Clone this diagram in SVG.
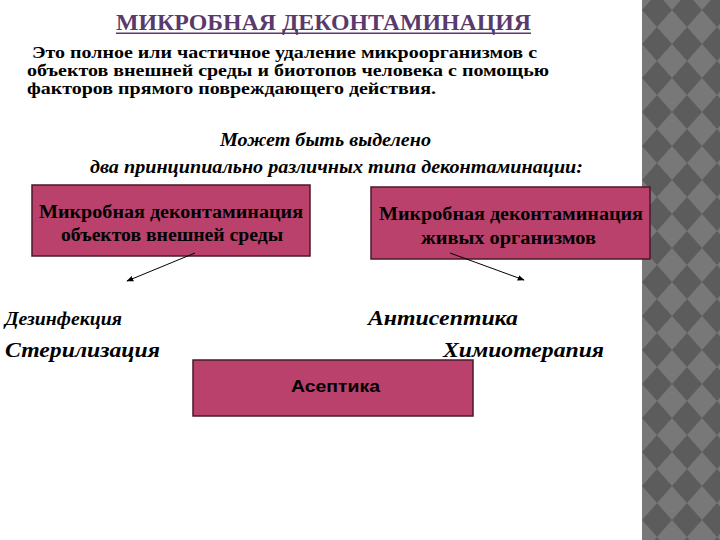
<svg xmlns="http://www.w3.org/2000/svg" width="720" height="540" viewBox="0 0 720 540">
<style>
.t{font-family:"Liberation Serif","Times New Roman",serif;font-weight:bold;fill:#000}
.i{font-style:italic}
.box{fill:#b9416c;stroke:#4a1828;stroke-width:1.5}
.conn{stroke:#000;stroke-width:1;fill:none;marker-end:url(#ah)}
</style>
<defs>
<pattern id="dia" x="642" y="-7" width="30" height="34" patternUnits="userSpaceOnUse">
<rect width="30" height="34" fill="#787878"/>
<polygon points="15,0 30,17 15,34 0,17" fill="#5c5c5c"/>
</pattern>
<marker id="ah" viewBox="0 0 10 10" refX="9" refY="5" markerWidth="7" markerHeight="7" orient="auto" markerUnits="userSpaceOnUse">
<path d="M0,1 L10,5 L0,9 z" fill="#000"/>
</marker>
</defs>
<rect width="720" height="540" fill="#fff"/>
<rect x="642" y="0" width="78" height="540" fill="url(#dia)"/>

<g id="title">
<text class="t" x="116" y="30" font-size="23" style="fill:#5a3a6d" textLength="415" lengthAdjust="spacingAndGlyphs">МИКРОБНАЯ ДЕКОНТАМИНАЦИЯ</text>
<rect x="116" y="32.5" width="415" height="1.5" fill="#5a3a6d"/>
</g>
<g id="definition">
<text class="t" x="32" y="58" font-size="16.5" textLength="505" lengthAdjust="spacingAndGlyphs">Это полное или частичное удаление микроорганизмов с</text>
<text class="t" x="27" y="76" font-size="16.5" textLength="522" lengthAdjust="spacingAndGlyphs">объектов внешней среды и биотопов человека с помощью</text>
<text class="t" x="27" y="94" font-size="16.5" textLength="409" lengthAdjust="spacingAndGlyphs">факторов прямого повреждающего действия.</text>
</g>
<g id="subtitle">
<text class="t i" x="220" y="146" font-size="18" textLength="211" lengthAdjust="spacingAndGlyphs">Может быть выделено</text>
<text class="t i" x="90" y="173" font-size="18" textLength="493" lengthAdjust="spacingAndGlyphs">два принципиально различных типа деконтаминации:</text>
</g>

<g id="node-external">
<rect class="box" x="32" y="185" width="278" height="71"/>
<text class="t" x="39" y="218" font-size="18" textLength="264" lengthAdjust="spacingAndGlyphs">Микробная деконтаминация</text>
<text class="t" x="61" y="241" font-size="18" textLength="222" lengthAdjust="spacingAndGlyphs">объектов внешней среды</text>
</g>
<g id="node-living">
<rect class="box" x="371" y="187" width="279" height="72"/>
<text class="t" x="379" y="220" font-size="18" textLength="264" lengthAdjust="spacingAndGlyphs">Микробная деконтаминация</text>
<text class="t" x="421" y="244" font-size="18" textLength="175" lengthAdjust="spacingAndGlyphs">живых организмов</text>
</g>
<g id="node-asepsis">
<rect class="box" x="193" y="360" width="280" height="56"/>
<text x="291" y="392" font-family="Liberation Sans, Arial, sans-serif" font-weight="bold" font-size="17" textLength="89" lengthAdjust="spacingAndGlyphs">Асептика</text>
</g>

<g id="connectors">
<line class="conn" x1="195" y1="253" x2="127" y2="281"/>
<line class="conn" x1="450" y1="253" x2="524" y2="280"/>
</g>

<g id="labels">
<text class="t i" x="5" y="325" font-size="18" textLength="117" lengthAdjust="spacingAndGlyphs">Дезинфекция</text>
<text class="t i" x="368" y="325" font-size="22" textLength="150" lengthAdjust="spacingAndGlyphs">Антисептика</text>
<text class="t i" x="5" y="357" font-size="22" textLength="155" lengthAdjust="spacingAndGlyphs">Стерилизация</text>
<text class="t i" x="443" y="357" font-size="22" textLength="161" lengthAdjust="spacingAndGlyphs">Химиотерапия</text>
</g>
</svg>
